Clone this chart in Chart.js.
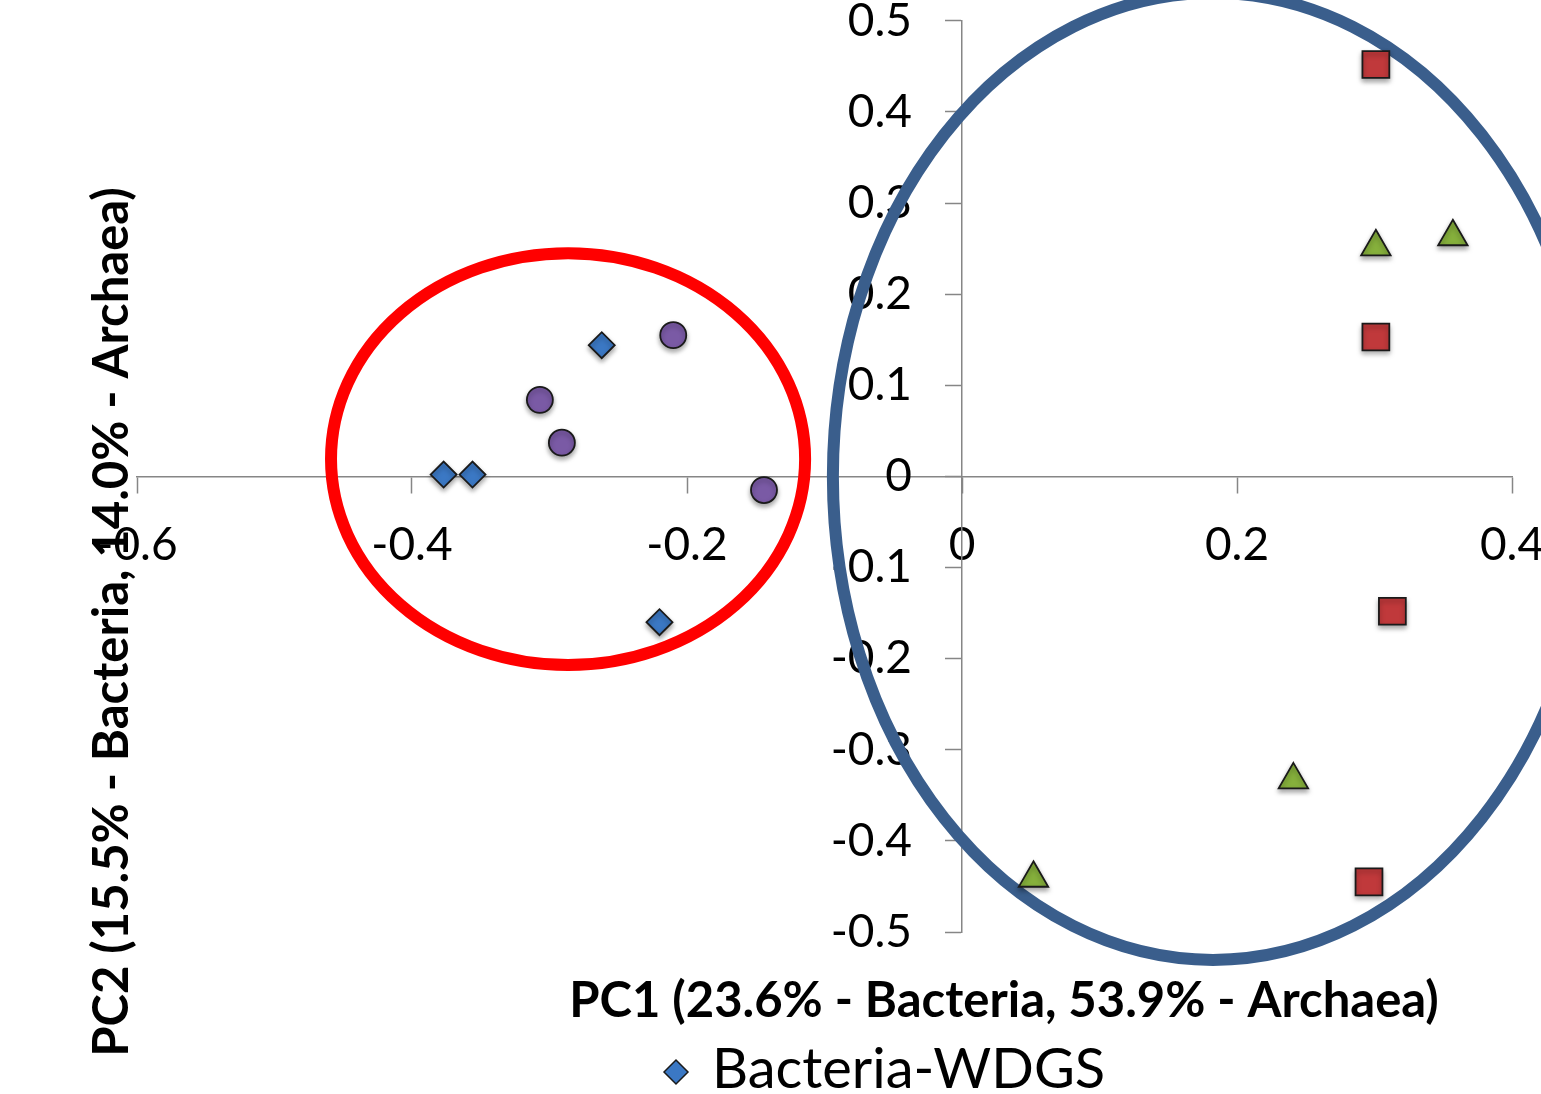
<!DOCTYPE html>
<html>
<head>
<meta charset="utf-8">
<script src="https://cdn.jsdelivr.net/npm/chart.js@4.4.1/dist/chart.umd.min.js"></script>
<style>
  html, body { margin: 0; padding: 0; background: #fff; overflow: hidden; }
  #wrap { width: 1541px; height: 1094px; }
</style>
</head>
<body>
<div id="wrap"><canvas id="pca"></canvas></div>
<script>
// PC scores, one pair of arrays per group
var seriesNames = ['Bacteria-WDGS', 'Bacteria-Corn', 'Archaea-WDGS', 'Archaea-Corn'];
var bacteriaWdgsPC1 = [-0.377, -0.356, -0.262, -0.220];
var bacteriaWdgsPC2 = [0.002, 0.002, 0.144, -0.160];
var bacteriaCornPC1 = [-0.210, -0.307, -0.291, -0.144];
var bacteriaCornPC2 = [0.155, 0.084, 0.037, -0.015];
var archaeaWdgsPC1 = [0.301, 0.301, 0.313, 0.296];
var archaeaWdgsPC2 = [0.452, 0.153, -0.148, -0.445];
var archaeaCornPC1 = [0.301, 0.357, 0.241, 0.052];
var archaeaCornPC2 = [0.252, 0.263, -0.333, -0.441];

var xTicks = [-0.6, -0.4, -0.2, 0, 0.2, 0.4];
var xTickLabels = ['-0.6', '-0.4', '-0.2', '0', '0.2', '0.4'];
var yTicks = [-0.5, -0.4, -0.3, -0.2, -0.1, 0, 0.1, 0.2, 0.3, 0.4, 0.5];
var yTickLabels = ['-0.5', '-0.4', '-0.3', '-0.2', '-0.1', '0', '0.1', '0.2', '0.3', '0.4', '0.5'];

// group outlines: centre PC1, centre PC2, half-width, half-height (data units)
var bacteriaOutline = [-0.2865, 0.019, 0.1724, 0.226];
var archaeaOutline = [0.1825, 0.0, 0.2764, 0.5306];

var xTitle = 'PC1 (23.6% - Bacteria, 53.9% - Archaea)';
var yTitle = 'PC2 (15.5% - Bacteria, 14.0% - Archaea)';

function toPoints(xs, ys) {
    return xs.map(function (x, i) { return { x: x, y: ys[i] }; });
}

var axisGrey = '#868686';
var tickFont = { family: 'Lato', size: 46 };

// a y axis pinned to x = 0 puts its labels right on the line; move them out
var yLabelGap = {
    id: 'yLabelGap',
    beforeDraw: function (chart) {
        var s = chart.scales.y;
        var items = s.getLabelItems();
        if (items._moved) return;
        var gap = s.options.grid.tickLength + s.options.ticks.padding;
        items.forEach(function (it) { it.options.translation[0] -= gap; });
        items._moved = true;
    }
};

// ellipses round the groups, drawn over the axes but under the markers
var outlinePlugin = {
    id: 'outlines',
    beforeDatasetsDraw: function (chart) {
        var ctx = chart.ctx, xs = chart.scales.x, ys = chart.scales.y;
        [[bacteriaOutline, '#ff0000'], [archaeaOutline, '#3a5e8c']].forEach(function (o) {
            var e = o[0];
            var cx = xs.getPixelForValue(e[0]);
            var cy = ys.getPixelForValue(e[1]);
            var rx = Math.abs(xs.getPixelForValue(e[0] + e[2]) - cx);
            var ry = Math.abs(ys.getPixelForValue(e[1] + e[3]) - cy);
            ctx.save();
            ctx.beginPath();
            ctx.ellipse(cx, cy, rx, ry, 0, 0, Math.PI * 2);
            ctx.lineWidth = 12;
            ctx.strokeStyle = o[1];
            ctx.stroke();
            ctx.restore();
        });
    }
};

// soft drop shadow under the markers
var shadowPlugin = {
    id: 'markerShadow',
    beforeDatasetDraw: function (chart) {
        var ctx = chart.ctx;
        ctx.save();
        ctx.shadowColor = 'rgba(0,0,0,0.35)';
        ctx.shadowBlur = 5;
        ctx.shadowOffsetY = 3;
    },
    afterDatasetDraw: function (chart) {
        chart.ctx.restore();
    }
};

// axis titles and the (single visible) legend entry
var labelPlugin = {
    id: 'labels',
    afterDraw: function (chart) {
        var ctx = chart.ctx, area = chart.chartArea;
        var ds = chart.data.datasets[0];
        ctx.save();
        ctx.fillStyle = '#000';
        ctx.textAlign = 'center';
        ctx.textBaseline = 'middle';
        ctx.font = 'bold 49px Lato';
        ctx.fillText(xTitle, 1004, area.bottom + 69);

        ctx.save();
        ctx.translate(112, 622);
        ctx.rotate(-Math.PI / 2);
        ctx.fillText(yTitle, 0, 0);
        ctx.restore();

        ctx.fillStyle = ds.backgroundColor;
        ctx.strokeStyle = ds.borderColor;
        ctx.lineWidth = 1.5;
        Chart.helpers.drawPoint(ctx, { pointStyle: 'rectRot', radius: 12, rotation: 0, borderWidth: 1.5 }, 676, 1072);
        ctx.fillStyle = '#000';
        ctx.textAlign = 'left';
        ctx.font = '56px Lato';
        ctx.fillText(ds.label, 712, 1070);
        ctx.restore();
    }
};

new Chart(document.getElementById('pca'), {
    type: 'scatter',
    data: {
        datasets: [
            { label: seriesNames[0], data: toPoints(bacteriaWdgsPC1, bacteriaWdgsPC2),
              pointStyle: 'rectRot', pointRadius: 13, backgroundColor: '#3b78c4', borderColor: '#1a1a1a', borderWidth: 1.8 },
            { label: seriesNames[1], data: toPoints(bacteriaCornPC1, bacteriaCornPC2),
              pointStyle: 'circle', pointRadius: 13, backgroundColor: '#7a5aa5', borderColor: '#1a1a1a', borderWidth: 1.8 },
            { label: seriesNames[2], data: toPoints(archaeaWdgsPC1, archaeaWdgsPC2),
              pointStyle: 'rect', pointRadius: 19, backgroundColor: '#c0393b', borderColor: '#1a1a1a', borderWidth: 1.8 },
            { label: seriesNames[3], data: toPoints(archaeaCornPC1, archaeaCornPC2),
              pointStyle: 'triangle', pointRadius: 17, backgroundColor: '#86b03c', borderColor: '#1a1a1a', borderWidth: 1.8 }
        ]
    },
    options: {
        responsive: true,
        maintainAspectRatio: false,
        animation: false,
        events: [],
        layout: { padding: { left: 137, right: 29, top: 18, bottom: 162 } },
        plugins: {
            legend: { display: false },
            tooltip: { enabled: false }
        },
        scales: {
            x: {
                type: 'linear',
                min: -0.6,
                max: 0.4,
                position: { y: 0 },
                afterBuildTicks: function (s) { s.ticks = xTicks.map(function (v) { return { value: v }; }); },
                afterFit: function (s) { s.paddingLeft = 0; s.paddingRight = 0; },
                grid: { drawOnChartArea: false, drawTicks: true, tickLength: 16, tickColor: axisGrey, tickWidth: 1.5 },
                border: { display: true, color: axisGrey, width: 1.5 },
                ticks: {
                    callback: function (v, i) { return xTickLabels[i]; },
                    font: tickFont, color: '#000', padding: 25, maxRotation: 0, autoSkip: false
                }
            },
            y: {
                type: 'linear',
                min: -0.5,
                max: 0.5,
                position: { x: 0 },
                afterBuildTicks: function (s) { s.ticks = yTicks.map(function (v) { return { value: v }; }); },
                afterFit: function (s) { s.paddingTop = 0; s.paddingBottom = 0; },
                grid: { drawOnChartArea: false, drawTicks: true, tickLength: 16, tickColor: axisGrey, tickWidth: 1.5 },
                border: { display: true, color: axisGrey, width: 1.5 },
                ticks: {
                    callback: function (v, i) { return yTickLabels[i]; },
                    font: tickFont, color: '#000', padding: 34, autoSkip: false
                }
            }
        }
    },
    plugins: [yLabelGap, outlinePlugin, shadowPlugin, labelPlugin]
});
</script>
</body>
</html>
